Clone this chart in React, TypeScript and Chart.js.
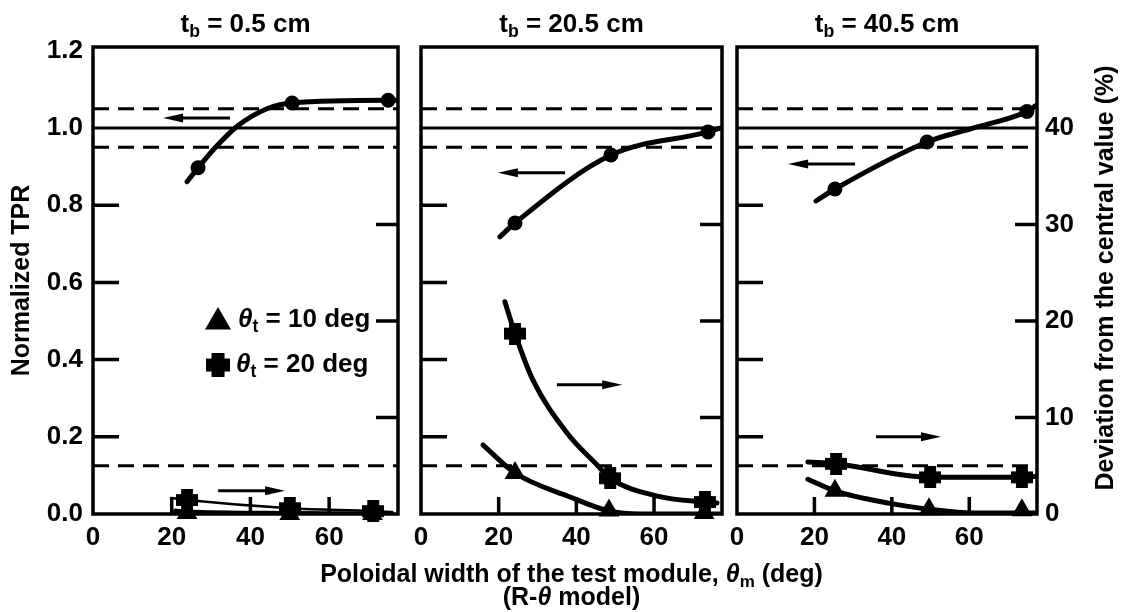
import React, { useEffect, useRef } from "react";
import { Chart, registerables } from "chart.js";

Chart.register(...registerables);

const FONT = '"Liberation Sans", Arial, Helvetica, sans-serif';
const INK = "#000";

// ---- axes -------------------------------------------------------------
const X_MAX = 77.5;
const TPR_MAX = 1.21;
const DEV_MAX = TPR_MAX * 40; // 1.0 on the TPR axis sits level with 40 %

const xTickValues = [0, 20, 40, 60];
const tprTickValues = [0, 0.2, 0.4, 0.6, 0.8, 1.0, 1.2];
const devTickValues = [0, 10, 20, 30, 40];
const tprInnerTicks = [0.2, 0.4, 0.6, 0.8];
const devInnerTicks = [10, 20, 30];
const xInnerTicks = [20, 40, 60];

// reference levels
const tprCentral = 1.0;
const tprBand = [0.95, 1.05];
const devBand = 5;

// blanket thickness t_b (cm) of each panel
const tbValues = ["0.5", "20.5", "40.5"];

// ---- t_b = 0.5 cm -----------------------------------------------------
const tprMarkX_A = [26.7, 50.6, 75.0];
const tprMarkY_A = [0.897, 1.065, 1.072];
const tprCurveX_A = [23.9, 26.7, 31.5, 36.8, 44.2, 50.6, 75.0, 77.5];
const tprCurveY_A = [0.861, 0.897, 0.954, 1.006, 1.05, 1.065, 1.072, 1.072];
const dev20MarkX_A = [23.9, 50.0, 71.2];
const dev20MarkY_A = [1.45, 0.6, 0.3];
const dev20CurveX_A = [20.0, 23.9, 50.0, 71.2, 76.0];
const dev20CurveY_A = [1.65, 1.45, 0.6, 0.3, 0.2];
const dev10MarkX_A = [23.9, 50.0, 71.0];
const dev10MarkY_A = [0.1, 0.0, 0.0];
const dev10CurveX_A = [21.0, 23.9, 50.0, 71.0, 76.0];
const dev10CurveY_A = [0.3, 0.2, 0.05, 0.0, 0.0];
const tprArrow_A = [17.8, 34.8, 1.026]; // head x, tail x, TPR
const devArrow_A = [31.8, 48.8, 2.4]; // tail x, head x, %

// ---- t_b = 20.5 cm ----------------------------------------------------
const tprMarkX_B = [24.2, 48.9, 73.9];
const tprMarkY_B = [0.754, 0.93, 0.99];
const tprCurveX_B = [20.3, 24.2, 48.9, 73.9, 77.0];
const tprCurveY_B = [0.718, 0.754, 0.93, 0.99, 1.0];
const dev20MarkX_B = [24.2, 48.7, 73.1];
const dev20MarkY_B = [18.7, 3.7, 1.24];
const dev20CurveX_B = [21.6, 24.2, 28.8, 37.6, 45.3, 48.7, 61.5, 73.1, 76.2];
const dev20CurveY_B = [22.0, 18.7, 13.9, 8.4, 5.1, 3.7, 1.8, 1.24, 1.14];
const dev10MarkX_B = [24.2, 48.4, 72.9];
const dev10MarkY_B = [4.25, 0.35, 0.1];
const dev10CurveX_B = [16.0, 24.2, 38.4, 48.4, 56.4, 77.0];
const dev10CurveY_B = [7.15, 4.25, 1.76, 0.31, 0.0, 0.0];
const tprArrow_B = [19.8, 37.1, 0.884];
const devArrow_B = [35.0, 51.8, 13.4];

// ---- t_b = 40.5 cm ----------------------------------------------------
const tprMarkX_C = [25.3, 49.1, 74.9];
const tprMarkY_C = [0.842, 0.964, 1.043];
const tprCurveX_C = [20.4, 25.3, 49.1, 61.0, 74.9, 77.2];
const tprCurveY_C = [0.811, 0.842, 0.964, 1.0, 1.043, 1.058];
const dev20MarkX_C = [25.6, 49.9, 73.6];
const dev20MarkY_C = [5.2, 3.8, 3.8];
const dev20CurveX_C = [18.3, 25.6, 49.9, 73.6, 77.0];
const dev20CurveY_C = [5.4, 5.2, 3.8, 3.8, 3.9];
const dev10MarkX_C = [25.3, 49.6, 73.6];
const dev10MarkY_C = [2.4, 0.5, 0.4];
const dev10CurveX_C = [18.3, 25.3, 39.5, 49.6, 61.0, 77.2];
const dev10CurveY_C = [3.6, 2.4, 1.1, 0.5, 0.1, 0.1];
const tprArrow_C = [13.2, 30.5, 0.907];
const devArrow_C = [35.9, 52.7, 8.0];

// ---- page layout ------------------------------------------------------
const W = 1122;
const H = 612;
const PLOT_TOP = 47;
const PLOT_BOTTOM = 514;
const X_AXIS_H = 40;
const panelEdges = [
  [93, 398],
  [421, 722],
  [737, 1037],
];

type Seg = { t: string; sub?: boolean; it?: boolean };

function pts(xs: number[], ys: number[]) {
  return xs.map((x, i) => ({ x, y: ys[i] }));
}

function segFont(s: Seg, size: number) {
  const sz = s.sub ? size * 0.68 : size;
  return `${s.it ? "italic " : ""}bold ${sz}px ${FONT}`;
}

function richWidth(ctx: CanvasRenderingContext2D, segs: Seg[], size: number) {
  let w = 0;
  for (const s of segs) {
    ctx.font = segFont(s, size);
    w += ctx.measureText(s.t).width;
  }
  return w;
}

function drawRich(
  ctx: CanvasRenderingContext2D,
  segs: Seg[],
  x: number,
  y: number,
  size: number,
  align: "left" | "center"
) {
  let cx = align === "center" ? x - richWidth(ctx, segs, size) / 2 : x;
  ctx.textAlign = "left";
  ctx.textBaseline = "middle";
  ctx.fillStyle = INK;
  for (const s of segs) {
    ctx.font = segFont(s, size);
    ctx.fillText(s.t, cx, s.sub ? y + size * 0.28 : y);
    cx += ctx.measureText(s.t).width;
  }
}

function drawArrow(ctx: CanvasRenderingContext2D, tail: number, head: number, y: number) {
  const dir = head > tail ? 1 : -1;
  const len = 20;
  ctx.beginPath();
  ctx.moveTo(tail, y);
  ctx.lineTo(head - dir * len * 0.7, y);
  ctx.lineWidth = 3;
  ctx.stroke();
  ctx.beginPath();
  ctx.moveTo(head, y);
  ctx.lineTo(head - dir * len, y - 4.5);
  ctx.lineTo(head - dir * len, y + 4.5);
  ctx.closePath();
  ctx.fill();
}

function plusMarker(size: number): HTMLCanvasElement {
  const c = document.createElement("canvas");
  c.width = size;
  c.height = size;
  const g = c.getContext("2d")!;
  const m = size / 2;
  const arm = size * 0.27;
  g.fillStyle = INK;
  g.beginPath();
  g.arc(m, m, size * 0.37, 0, Math.PI * 2);
  g.fill();
  g.fillRect(m - arm, 0, arm * 2, size);
  g.fillRect(0, m - arm, size, arm * 2);
  return c;
}

function triangle(ctx: CanvasRenderingContext2D, x: number, y: number, r: number) {
  ctx.beginPath();
  for (let k = 0; k < 3; k++) {
    const a = (k * 2 * Math.PI) / 3;
    ctx.lineTo(x + Math.sin(a) * r, y - Math.cos(a) * r);
  }
  ctx.closePath();
  ctx.fill();
}

type Panel = {
  tb: string;
  tprMark: { x: number; y: number }[];
  tprCurve: { x: number; y: number }[];
  d20Mark: { x: number; y: number }[];
  d20Curve: { x: number; y: number }[];
  d10Mark: { x: number; y: number }[];
  d10Curve: { x: number; y: number }[];
  tprArrow: number[];
  devArrow: number[];
  d20Width: number;
};

const panels: Panel[] = [
  {
    tb: tbValues[0],
    tprMark: pts(tprMarkX_A, tprMarkY_A),
    tprCurve: pts(tprCurveX_A, tprCurveY_A),
    d20Mark: pts(dev20MarkX_A, dev20MarkY_A),
    d20Curve: pts(dev20CurveX_A, dev20CurveY_A),
    d10Mark: pts(dev10MarkX_A, dev10MarkY_A),
    d10Curve: pts(dev10CurveX_A, dev10CurveY_A),
    tprArrow: tprArrow_A,
    devArrow: devArrow_A,
    d20Width: 2.5,
  },
  {
    tb: tbValues[1],
    tprMark: pts(tprMarkX_B, tprMarkY_B),
    tprCurve: pts(tprCurveX_B, tprCurveY_B),
    d20Mark: pts(dev20MarkX_B, dev20MarkY_B),
    d20Curve: pts(dev20CurveX_B, dev20CurveY_B),
    d10Mark: pts(dev10MarkX_B, dev10MarkY_B),
    d10Curve: pts(dev10CurveX_B, dev10CurveY_B),
    tprArrow: tprArrow_B,
    devArrow: devArrow_B,
    d20Width: 5,
  },
  {
    tb: tbValues[2],
    tprMark: pts(tprMarkX_C, tprMarkY_C),
    tprCurve: pts(tprCurveX_C, tprCurveY_C),
    d20Mark: pts(dev20MarkX_C, dev20MarkY_C),
    d20Curve: pts(dev20CurveX_C, dev20CurveY_C),
    d10Mark: pts(dev10MarkX_C, dev10MarkY_C),
    d10Curve: pts(dev10CurveX_C, dev10CurveY_C),
    tprArrow: tprArrow_C,
    devArrow: devArrow_C,
    d20Width: 5,
  },
];

const TICK_FONT = { family: FONT, size: 26, weight: "bold" as const };

function buildChart(canvas: HTMLCanvasElement, p: Panel, idx: number) {
  const [left, right] = panelEdges[idx];
  const first = idx === 0;
  const middle = idx === 1;
  const last = idx === 2;
  const plus = plusMarker(22);

  const curve = (data: any[], axis: string, width: number) => ({
    data,
    yAxisID: axis,
    borderColor: INK,
    borderWidth: width,
    pointRadius: 0,
    fill: false,
    cubicInterpolationMode: "monotone",
    borderCapStyle: "round",
    borderJoinStyle: "round",
  });
  const marks = (data: any[], axis: string, style: any, radius: number) => ({
    data,
    yAxisID: axis,
    showLine: false,
    pointStyle: style,
    pointRadius: radius,
    pointBackgroundColor: INK,
    pointBorderColor: INK,
    pointBorderWidth: 0,
    clip: false,
  });
  const level = (y: number, axis: string, dash: number[]) => ({
    data: [
      { x: 0, y },
      { x: X_MAX, y },
    ],
    yAxisID: axis,
    borderColor: INK,
    borderWidth: 3,
    borderDash: dash,
    pointRadius: 0,
    fill: false,
  });

  const decor = {
    id: "decor",
    beforeDatasetsDraw(chart: any) {
      const { ctx, chartArea: a, scales } = chart;
      ctx.save();
      ctx.strokeStyle = INK;
      ctx.lineWidth = 3.5;
      ctx.strokeRect(a.left, a.top, a.right - a.left, a.bottom - a.top);
      ctx.lineWidth = 3.5;
      ctx.beginPath();
      for (const v of tprInnerTicks) {
        const y = scales.y.getPixelForValue(v);
        ctx.moveTo(a.left, y);
        ctx.lineTo(a.left + 26, y);
      }
      for (const v of devInnerTicks) {
        const y = scales.y2.getPixelForValue(v);
        ctx.moveTo(a.right - 22, y);
        ctx.lineTo(a.right, y);
      }
      for (const v of xInnerTicks) {
        const x = scales.x.getPixelForValue(v);
        ctx.moveTo(x, a.bottom);
        ctx.lineTo(x, a.bottom - 17);
      }
      ctx.stroke();
      ctx.restore();
    },
    afterDraw(chart: any) {
      const { ctx, chartArea: a, scales } = chart;
      ctx.save();
      ctx.strokeStyle = INK;
      ctx.fillStyle = INK;
      // arrows pointing at the axis each curve family belongs to
      drawArrow(
        ctx,
        scales.x.getPixelForValue(p.tprArrow[1]),
        scales.x.getPixelForValue(p.tprArrow[0]),
        scales.y.getPixelForValue(p.tprArrow[2])
      );
      drawArrow(
        ctx,
        scales.x.getPixelForValue(p.devArrow[0]),
        scales.x.getPixelForValue(p.devArrow[1]),
        scales.y2.getPixelForValue(p.devArrow[2])
      );
      // panel heading
      drawRich(
        ctx,
        [{ t: "t" }, { t: "b", sub: true }, { t: ` = ${p.tb} cm` }],
        (a.left + a.right) / 2,
        25,
        26,
        "center"
      );
      if (first) {
        // legend
        triangle(ctx, 218, 322, 15);
        drawRich(ctx, [{ t: "θ", it: true }, { t: "t", sub: true }, { t: " = 10 deg" }], 238, 320, 26, "left");
        ctx.drawImage(plus, 206, 353, 24, 24);
        drawRich(ctx, [{ t: "θ", it: true }, { t: "t", sub: true }, { t: " = 20 deg" }], 236, 365, 26, "left");
        // left axis title
        ctx.save();
        ctx.translate(22, (a.top + a.bottom) / 2);
        ctx.rotate(-Math.PI / 2);
        drawRich(ctx, [{ t: "Normalized TPR" }], 0, 0, 25, "center");
        ctx.restore();
      }
      if (middle) {
        const cx = (a.left + a.right) / 2;
        drawRich(
          ctx,
          [
            { t: "Poloidal width of the test module, " },
            { t: "θ", it: true },
            { t: "m", sub: true },
            { t: " (deg)" },
          ],
          cx,
          575,
          25,
          "center"
        );
        drawRich(ctx, [{ t: "(R-" }, { t: "θ", it: true }, { t: " model)" }], cx, 598, 25, "center");
      }
      if (last) {
        ctx.save();
        ctx.translate(1106, 278);
        ctx.rotate(-Math.PI / 2);
        drawRich(ctx, [{ t: "Deviation from the central value (%)" }], 0, 0, 25, "center");
        ctx.restore();
      }
      ctx.restore();
    },
  };

  return new Chart(canvas, {
    type: "line",
    data: {
      datasets: [
        marks(p.tprMark, "y", "circle", 7.5),
        marks(p.d20Mark, "y2", plus, 11),
        marks(p.d10Mark, "y2", "triangle", 12),
        curve(p.tprCurve, "y", 5),
        curve(p.d20Curve, "y2", p.d20Width),
        curve(p.d10Curve, "y2", 5),
        level(tprCentral, "y", []),
        level(tprBand[0], "y", [16, 9]),
        level(tprBand[1], "y", [16, 9]),
        level(devBand, "y2", [16, 9]),
      ] as any,
    },
    options: {
      responsive: false,
      maintainAspectRatio: false,
      animation: false,
      devicePixelRatio: 1,
      events: [],
      layout: {
        padding: {
          left: first ? 0 : left,
          right: last ? 0 : W - right,
          top: PLOT_TOP,
          bottom: H - PLOT_BOTTOM - X_AXIS_H,
        },
      },
      plugins: { legend: { display: false }, tooltip: { enabled: false } },
      scales: {
        x: {
          type: "linear",
          position: "bottom",
          min: 0,
          max: X_MAX,
          grid: { display: false, drawTicks: false },
          border: { display: false },
          ticks: { font: TICK_FONT, color: INK, padding: 8, maxRotation: 0, autoSkip: false, callback: (v: any) => String(v) },
          afterBuildTicks: (s: any) => {
            s.ticks = xTickValues.map((value) => ({ value }));
          },
          afterFit: (s: any) => {
            s.height = X_AXIS_H;
          },
        },
        y: {
          type: "linear",
          position: "left",
          display: first,
          min: 0,
          max: TPR_MAX,
          grid: { display: false, drawTicks: false },
          border: { display: false },
          ticks: { font: TICK_FONT, color: INK, padding: 10, callback: (v: any) => Number(v).toFixed(1) },
          afterBuildTicks: (s: any) => {
            s.ticks = tprTickValues.map((value) => ({ value }));
          },
          afterFit: (s: any) => {
            s.width = first ? left : 0;
          },
        },
        y2: {
          type: "linear",
          position: "right",
          display: last,
          min: 0,
          max: DEV_MAX,
          grid: { display: false, drawTicks: false },
          border: { display: false },
          ticks: { font: TICK_FONT, color: INK, padding: 8, callback: (v: any) => String(v) },
          afterBuildTicks: (s: any) => {
            s.ticks = devTickValues.map((value) => ({ value }));
          },
          afterFit: (s: any) => {
            s.width = last ? W - right : 0;
          },
        },
      },
    } as any,
    plugins: [decor],
  });
}

function PanelCanvas({ idx }: { idx: number }) {
  const ref = useRef<HTMLCanvasElement>(null);
  useEffect(() => {
    if (!ref.current) return;
    const chart = buildChart(ref.current, panels[idx], idx);
    return () => chart.destroy();
  }, [idx]);
  return (
    <canvas
      ref={ref}
      width={W}
      height={H}
      style={{ position: "absolute", left: 0, top: 0, width: W, height: H }}
    />
  );
}

export default function App() {
  return (
    <div
      style={{
        position: "fixed",
        left: 0,
        top: 0,
        width: W,
        height: H,
        background: "#fff",
        overflow: "hidden",
      }}
    >
      {panels.map((_, i) => (
        <PanelCanvas key={i} idx={i} />
      ))}
    </div>
  );
}
